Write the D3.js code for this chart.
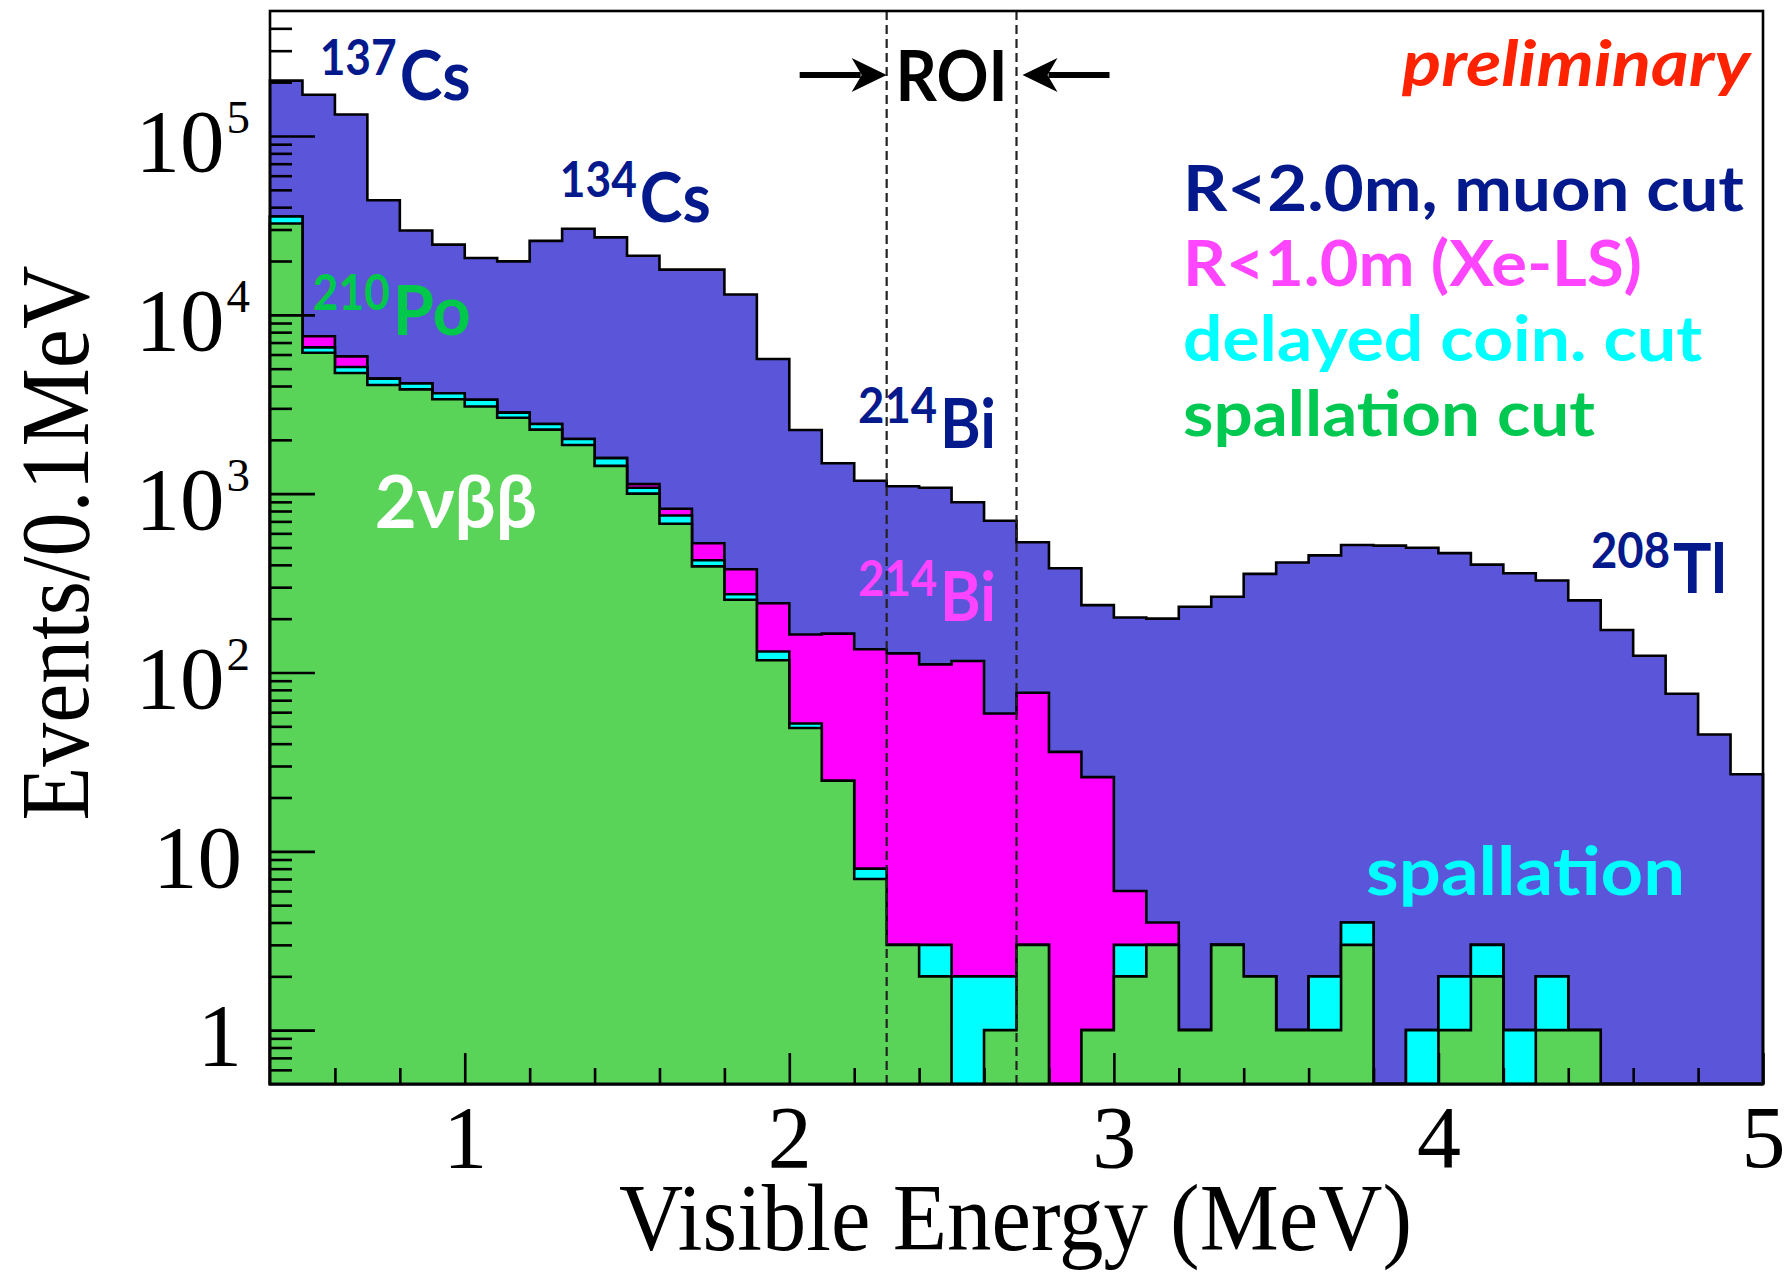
<!DOCTYPE html>
<html>
<head>
<meta charset="utf-8">
<script src="https://cdn.jsdelivr.net/npm/d3@7"></script>
<style>
  html, body { margin: 0; padding: 0; background: #fff; }
  svg { display: block; }
</style>
</head>
<body>
<svg id="chart" width="1785" height="1276"></svg>
<script>
// ---------------------------------------------------------------
// Visible-energy spectrum, 0.1 MeV bins from 0.4 to 5.0 MeV
// ---------------------------------------------------------------
const energyLow = [0.4, 0.5, 0.6, 0.7, 0.8, 0.9, 1.0, 1.1, 1.2, 1.3,
                   1.4, 1.5, 1.6, 1.7, 1.8, 1.9, 2.0, 2.1, 2.2, 2.3,
                   2.4, 2.5, 2.6, 2.7, 2.8, 2.9, 3.0, 3.1, 3.2, 3.3,
                   3.4, 3.5, 3.6, 3.7, 3.8, 3.9, 4.0, 4.1, 4.2, 4.3,
                   4.4, 4.5, 4.6, 4.7, 4.8, 4.9];
const energyMax = 5.0;

// R<2.0m, muon cut
const allEvents = [204000, 170000, 132000, 43700, 29600, 24700, 20800, 19900, 25900, 30300,
                   27100, 21400, 17900, 17900, 13000, 5660, 2270, 1480, 1180, 1100,
                   1080, 896, 705, 535, 383, 238, 203, 200, 233, 265,
                   356, 412, 452, 516, 512, 498, 465, 401, 359, 327,
                   253, 173, 124, 76, 45, 27];

// R<1.0m (Xe-LS)
const innerVolume = [35500, 7590, 5860, 4400, 4140, 3640, 3350, 2840, 2450, 2020,
                     1580, 1130, 824, 528, 378, 244, 163, 165, 135, 128,
                     111, 116, 59, 77, 36, 26, 6, 4, 1, 3,
                     2, 1, 2, 4, 0, 1, 2, 3, 1, 2,
                     1, 0, 0, 0, 0, 0];

// delayed coincidence cut
const delayedCoinCut = [35500, 6580, 5110, 4400, 4140, 3640, 3350, 2840, 2450, 2020,
                        1580, 1080, 755, 424, 274, 131, 51.9, 24.8, 8, 3,
                        3, 2, 2, 3, 0, 1, 3, 3, 1, 3,
                        2, 1, 2, 4, 0, 1, 2, 3, 1, 2,
                        1, 0, 0, 0, 0, 0];

// spallation cut
const spallationCut = [32400, 6140, 4730, 4050, 3830, 3370, 3070, 2660, 2280, 1870,
                       1430, 1000, 679, 392, 255, 117, 48.9, 24.8, 7, 3,
                       2, 0, 1, 3, 0, 1, 2, 3, 1, 3,
                       2, 1, 1, 3, 0, 0, 1, 2, 0, 1,
                       1, 0, 0, 0, 0, 0];

// energy window of interest (MeV)
const roiEdges = [2.3, 2.7];

// axis ticks
const xTickValues = [1, 2, 3, 4, 5];
const xTickLabels = ["1", "2", "3", "4", "5"];
const yTickValues = [1, 10, 100, 1000, 10000, 100000];
const yTickBase   = ["1", "10", "10", "10", "10", "10"];
const yTickExp    = ["", "", "2", "3", "4", "5"];

// ---------------------------------------------------------------
const svg = d3.select("#chart");
const frame = { left: 270, right: 1763, top: 11, bottom: 1084 };
const yMin = 0.5, yMax = 5e5;

const x = d3.scaleLinear().domain([energyLow[0], energyMax]).range([frame.left, frame.right]);
const y = d3.scaleLog().domain([yMin, yMax]).range([frame.bottom, frame.top]);

const serif = "'Liberation Serif', 'Times New Roman', serif";
const sans = "Lato, 'Open Sans', 'Noto Sans', sans-serif";

function histPoints(vals) {
  const pts = energyLow.map((e, i) => [e, vals[i]]);
  pts.push([energyMax, vals[vals.length - 1]]);
  return pts;
}

const area = d3.area()
  .curve(d3.curveStepAfter)
  .x(d => x(d[0]))
  .y0(frame.bottom)
  .y1(d => y(Math.max(d[1], yMin)));

const layers = [
  { values: allEvents,      fill: "#5a55d9" },
  { values: innerVolume,    fill: "#ff00ff" },
  { values: delayedCoinCut, fill: "#00ffff" },
  { values: spallationCut,  fill: "#59d459" }
];

const gHist = svg.append("g");
layers.forEach(l => {
  gHist.append("path")
    .datum(histPoints(l.values))
    .attr("d", area)
    .attr("fill", l.fill)
    .attr("stroke", "#000")
    .attr("stroke-width", 2.6)
    .attr("stroke-linejoin", "miter");
});

// ROI boundaries
svg.append("g").selectAll("line")
  .data(roiEdges)
  .join("line")
  .attr("x1", d => x(d)).attr("x2", d => x(d))
  .attr("y1", frame.top).attr("y2", frame.bottom)
  .attr("stroke", "#222")
  .attr("stroke-width", 2.2)
  .attr("stroke-dasharray", "9,5");

// ---------------- axes ----------------
const yMinorTicks = [];
for (let p = -1; p <= 5; p++) {
  for (let k = 2; k <= 9; k++) {
    const v = k * Math.pow(10, p);
    if (v > yMin && v < yMax) yMinorTicks.push(v);
  }
}
const xMinorTicks = [];
for (let v = 6; v < 50; v += 2) if (v % 10 !== 0) xMinorTicks.push(v / 10);

function styleAxis(g) {
  g.select(".domain").remove();
  g.selectAll(".tick line").attr("stroke", "#000").attr("stroke-width", 2.6);
}

// y minor ticks
svg.append("g")
  .attr("transform", `translate(${frame.left},0)`)
  .call(d3.axisLeft(y).tickValues(yMinorTicks).tickSizeInner(-22).tickSizeOuter(0).tickFormat(""))
  .call(styleAxis);

// y major ticks with labels
const gY = svg.append("g")
  .attr("transform", `translate(${frame.left},0)`)
  .call(d3.axisLeft(y).tickValues(yTickValues).tickSizeInner(-45).tickSizeOuter(0).tickPadding(28))
  .call(styleAxis);

gY.selectAll(".tick text").each(function (d, i) {
  const t = d3.select(this);
  t.text(null)
    .attr("font-family", serif)
    .attr("font-size", 89)
    .attr("fill", "#000")
    .attr("dy", "0.39em");
  t.append("tspan").text(yTickBase[i]);
  if (yTickExp[i]) {
    t.attr("x", -20);
    t.append("tspan").text(yTickExp[i]).attr("font-size", 47).attr("dy", -38).attr("dx", 2);
  }
});

// x minor ticks
svg.append("g")
  .attr("transform", `translate(0,${frame.bottom})`)
  .call(d3.axisBottom(x).tickValues(xMinorTicks).tickSizeInner(-16).tickSizeOuter(0).tickFormat(""))
  .call(styleAxis);

// x major ticks with labels
svg.append("g")
  .attr("transform", `translate(0,${frame.bottom})`)
  .call(d3.axisBottom(x).tickValues(xTickValues).tickSizeInner(-31).tickSizeOuter(0).tickPadding(21)
        .tickFormat((d, i) => xTickLabels[i]))
  .call(styleAxis)
  .call(g => g.selectAll(".tick text")
    .attr("font-family", serif).attr("font-size", 88).attr("fill", "#000"));

// frame
svg.append("rect")
  .attr("x", frame.left).attr("y", frame.top)
  .attr("width", frame.right - frame.left).attr("height", frame.bottom - frame.top)
  .attr("fill", "none").attr("stroke", "#000").attr("stroke-width", 2.6);

// axis titles
svg.append("text")
  .attr("x", (frame.left + frame.right) / 2 - 1).attr("y", 1250)
  .attr("text-anchor", "middle")
  .attr("font-family", serif).attr("font-size", 96)
  .attr("textLength", 793).attr("lengthAdjust", "spacingAndGlyphs")
  .text("Visible Energy (MeV)");

svg.append("text")
  .attr("transform", "translate(88,543) rotate(-90)")
  .attr("text-anchor", "middle")
  .attr("font-family", serif).attr("font-size", 98)
  .attr("textLength", 555).attr("lengthAdjust", "spacingAndGlyphs")
  .text("Events/0.1MeV");

// ---------------- annotations ----------------
const gAnn = svg.append("g").attr("font-family", sans).attr("font-weight", 700);

function isotope(sup, main, e, c, color, supW, mainW) {
  const x0 = x(e), yb = y(c);
  gAnn.append("text")
    .attr("x", x0).attr("y", yb - 25)
    .attr("font-size", 49).attr("fill", color)
    .attr("textLength", supW).attr("lengthAdjust", "spacingAndGlyphs")
    .text(sup);
  gAnn.append("text")
    .attr("x", x0 + supW + 3).attr("y", yb)
    .attr("font-size", 68).attr("fill", color)
    .attr("textLength", mainW).attr("lengthAdjust", "spacingAndGlyphs")
    .text(main);
}

function plain(str, e, c, color, size, w, opts = {}) {
  const t = gAnn.append("text")
    .attr("x", x(e)).attr("y", y(c))
    .attr("font-size", size).attr("fill", color)
    .attr("textLength", w).attr("lengthAdjust", "spacingAndGlyphs")
    .text(str);
  if (opts.italic) t.attr("font-style", "italic");
  if (opts.anchor) t.attr("text-anchor", opts.anchor);
  return t;
}

const navy = "#03198c";
isotope("137", "Cs", 0.553, 1.59e5, navy, 77, 71);
isotope("134", "Cs", 1.293, 3.30e4, navy, 77, 71);
isotope("210", "Po", 0.532, 7.71e3, "#00c84a", 77, 78);
isotope("214", "Bi", 2.212, 1.80e3, navy, 79, 56);
isotope("214", "Bi", 2.212, 194, "#ff44ff", 79, 56);
isotope("208", "Tl", 4.470, 278, navy, 79, 54);

plain("2νββ", 0.723, 643, "#ffffff", 72, 162);
plain("spallation", 3.777, 5.7, "#00ffff", 66, 319);
plain("preliminary", 3.888, 1.9e5, "#ff2200", 64, 348, { italic: true });

// cut descriptions, one colour per selection stage
plain("R<2.0m, muon cut", 3.213, 3.81e4, navy, 63, 561);
plain("R<1.0m (Xe-LS)", 3.213, 1.45e4, "#ff45ff", 63, 459);
plain("delayed coin. cut", 3.213, 5.52e3, "#00ffff", 63, 519);
plain("spallation cut", 3.213, 2.10e3, "#00c850", 63, 412);

// ROI marker
plain("ROI", 2.5, 1.57e5, "#000", 71, 112, { anchor: "middle" });

const arrowY = y(2.19e5);
function arrow(tipX, dir) {
  // dir = +1 points right, -1 points left
  const g = svg.append("g");
  g.append("line")
    .attr("x1", tipX - dir * 87).attr("x2", tipX - dir * 26)
    .attr("y1", arrowY).attr("y2", arrowY)
    .attr("stroke", "#000").attr("stroke-width", 6);
  const p = d3.path();
  p.moveTo(tipX, arrowY);
  p.lineTo(tipX - dir * 35, arrowY - 17);
  p.lineTo(tipX - dir * 25, arrowY);
  p.lineTo(tipX - dir * 35, arrowY + 17);
  p.closePath();
  g.append("path").attr("d", p.toString()).attr("fill", "#000");
}
arrow(x(roiEdges[0]), 1);
arrow(x(roiEdges[1]) + 6, -1);
</script>
</body>
</html>
